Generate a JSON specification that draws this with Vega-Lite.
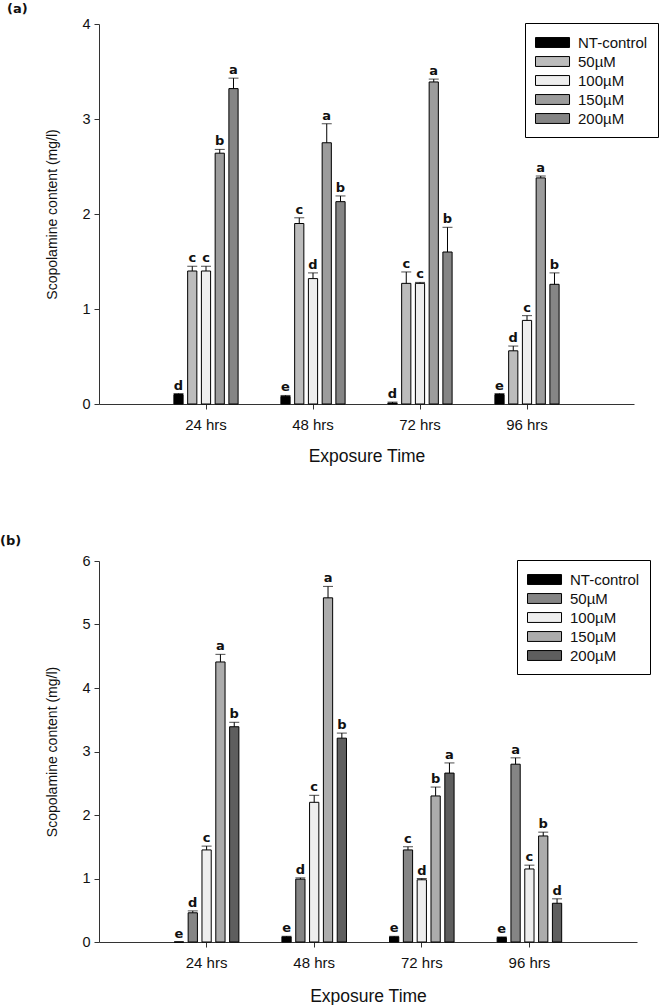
{
  "$schema": "https://vega.github.io/schema/vega-lite/v6.json",
  "padding": {"left": 0, "top": 3, "right": 0, "bottom": 0},
  "background": "white",
  "config": {
    "font": "Liberation Sans",
    "view": {"stroke": null},
    "axis": {"domainColor": "#333", "tickColor": "#333", "labelColor": "#111", "titleColor": "#111", "grid": false, "labelFont": "Liberation Sans", "titleFont": "Liberation Sans", "titleFontWeight": "normal", "tickSize": 5, "labelFontSize": 15, "titleFontSize": 17.5},
    "legend": {"orient": "none", "title": null, "strokeColor": "black", "fillColor": "white", "padding": 10, "symbolType": "M-1,-0.55H2.78V0.55H-1Z", "symbolSize": 324, "symbolStrokeColor": "black", "symbolStrokeWidth": 1, "labelFontSize": 15, "labelOffset": 24, "rowPadding": 1, "labelFont": "Liberation Sans", "labelColor": "#111", "symbolOpacity": 1}
  },
  "datasets": {
    "a": [
      {"time": "24 hrs", "series": "NT-control", "value": 0.10, "hi": 0.11, "letter": "d"},
      {"time": "24 hrs", "series": "50µM", "value": 1.40, "hi": 1.45, "letter": "c"},
      {"time": "24 hrs", "series": "100µM", "value": 1.40, "hi": 1.45, "letter": "c"},
      {"time": "24 hrs", "series": "150µM", "value": 2.64, "hi": 2.68, "letter": "b"},
      {"time": "24 hrs", "series": "200µM", "value": 3.32, "hi": 3.43, "letter": "a"},
      {"time": "48 hrs", "series": "NT-control", "value": 0.08, "hi": 0.09, "letter": "e"},
      {"time": "48 hrs", "series": "50µM", "value": 1.90, "hi": 1.96, "letter": "c"},
      {"time": "48 hrs", "series": "100µM", "value": 1.32, "hi": 1.38, "letter": "d"},
      {"time": "48 hrs", "series": "150µM", "value": 2.75, "hi": 2.95, "letter": "a"},
      {"time": "48 hrs", "series": "200µM", "value": 2.13, "hi": 2.19, "letter": "b"},
      {"time": "72 hrs", "series": "NT-control", "value": 0.01, "hi": 0.02, "letter": "d"},
      {"time": "72 hrs", "series": "50µM", "value": 1.27, "hi": 1.39, "letter": "c"},
      {"time": "72 hrs", "series": "100µM", "value": 1.27, "hi": 1.28, "letter": "c"},
      {"time": "72 hrs", "series": "150µM", "value": 3.39, "hi": 3.42, "letter": "a"},
      {"time": "72 hrs", "series": "200µM", "value": 1.60, "hi": 1.86, "letter": "b"},
      {"time": "96 hrs", "series": "NT-control", "value": 0.10, "hi": 0.11, "letter": "e"},
      {"time": "96 hrs", "series": "50µM", "value": 0.56, "hi": 0.61, "letter": "d"},
      {"time": "96 hrs", "series": "100µM", "value": 0.88, "hi": 0.93, "letter": "c"},
      {"time": "96 hrs", "series": "150µM", "value": 2.38, "hi": 2.40, "letter": "a"},
      {"time": "96 hrs", "series": "200µM", "value": 1.26, "hi": 1.38, "letter": "b"}
    ],
    "b": [
      {"time": "24 hrs", "series": "NT-control", "value": 0.0, "hi": 0.0, "letter": "e"},
      {"time": "24 hrs", "series": "50µM", "value": 0.46, "hi": 0.49, "letter": "d"},
      {"time": "24 hrs", "series": "100µM", "value": 1.45, "hi": 1.51, "letter": "c"},
      {"time": "24 hrs", "series": "150µM", "value": 4.41, "hi": 4.53, "letter": "a"},
      {"time": "24 hrs", "series": "200µM", "value": 3.39, "hi": 3.46, "letter": "b"},
      {"time": "48 hrs", "series": "NT-control", "value": 0.08, "hi": 0.09, "letter": "e"},
      {"time": "48 hrs", "series": "50µM", "value": 0.99, "hi": 1.01, "letter": "d"},
      {"time": "48 hrs", "series": "100µM", "value": 2.20, "hi": 2.31, "letter": "c"},
      {"time": "48 hrs", "series": "150µM", "value": 5.42, "hi": 5.60, "letter": "a"},
      {"time": "48 hrs", "series": "200µM", "value": 3.21, "hi": 3.29, "letter": "b"},
      {"time": "72 hrs", "series": "NT-control", "value": 0.08, "hi": 0.09, "letter": "e"},
      {"time": "72 hrs", "series": "50µM", "value": 1.45, "hi": 1.50, "letter": "c"},
      {"time": "72 hrs", "series": "100µM", "value": 0.98, "hi": 1.00, "letter": "d"},
      {"time": "72 hrs", "series": "150µM", "value": 2.30, "hi": 2.44, "letter": "b"},
      {"time": "72 hrs", "series": "200µM", "value": 2.66, "hi": 2.82, "letter": "a"},
      {"time": "96 hrs", "series": "NT-control", "value": 0.07, "hi": 0.08, "letter": "e"},
      {"time": "96 hrs", "series": "50µM", "value": 2.80, "hi": 2.90, "letter": "a"},
      {"time": "96 hrs", "series": "100µM", "value": 1.15, "hi": 1.21, "letter": "c"},
      {"time": "96 hrs", "series": "150µM", "value": 1.67, "hi": 1.73, "letter": "b"},
      {"time": "96 hrs", "series": "200µM", "value": 0.61, "hi": 0.68, "letter": "d"}
    ]
  },
  "columns": 1,
  "align": "none",
  "spacing": 70,
  "resolve": {"scale": {"fill": "independent", "y": "independent", "x": "independent", "xOffset": "independent"}, "legend": {"fill": "independent"}},
  "concat": [
    {
      "data": {"name": "a"},
      "title": {"text": "(a)", "anchor": "start", "frame": "group", "dx": -92, "fontSize": 13, "fontWeight": "bold", "font": "DejaVu Sans", "offset": 0, "color": "#111"},
      "width": 535,
      "height": 380,
      "encoding": {
        "x": {"field": "time", "type": "nominal", "sort": null, "scale": {"domain": ["24 hrs", "48 hrs", "72 hrs", "96 hrs"], "paddingInner": 0.4, "paddingOuter": 0.7}, "axis": {"title": "Exposure Time", "labelAngle": 0, "labelPadding": 8, "titlePadding": 15}},
        "xOffset": {"field": "series", "type": "nominal", "sort": null, "scale": {"domain": ["NT-control", "50µM", "100µM", "150µM", "200µM"], "paddingInner": 0.33, "paddingOuter": 0}}
      },
      "layer": [
        {
          "mark": {"type": "bar", "stroke": "black", "strokeWidth": 1},
          "encoding": {
            "y": {"field": "value", "type": "quantitative", "scale": {"domain": [0, 4], "nice": false}, "axis": {"title": "Scopolamine content (mg/l)", "values": [0, 1, 2, 3, 4], "format": "d", "labelPadding": 4, "titlePadding": 22, "titleFontSize": 14, "labelFontSize": 14.5}},
            "fill": {"field": "series", "type": "nominal", "sort": null, "scale": {"domain": ["NT-control", "50µM", "100µM", "150µM", "200µM"], "range": ["#000000", "#bcbcbc", "#eeeeee", "#9c9c9c", "#858585"]}, "legend": {"legendX": 426, "legendY": -1}}
          }
        },
        {"mark": {"type": "rule", "color": "black", "strokeWidth": 1}, "encoding": {"y": {"field": "value", "type": "quantitative"}, "y2": {"field": "hi"}}},
        {"mark": {"type": "tick", "color": "black", "thickness": 1, "size": 10}, "encoding": {"y": {"field": "hi", "type": "quantitative"}}},
        {"mark": {"type": "text", "baseline": "bottom", "dy": -1, "fontWeight": "bold", "fontSize": 13, "font": "DejaVu Sans", "color": "#111"}, "encoding": {"y": {"field": "hi", "type": "quantitative"}, "text": {"field": "letter"}}}
      ]
    },
    {
      "data": {"name": "b"},
      "title": {"text": "(b)", "anchor": "start", "frame": "group", "dx": -99, "fontSize": 13, "fontWeight": "bold", "font": "DejaVu Sans", "offset": 5, "color": "#111"},
      "width": 538,
      "height": 381,
      "encoding": {
        "x": {"field": "time", "type": "nominal", "sort": null, "scale": {"domain": ["24 hrs", "48 hrs", "72 hrs", "96 hrs"], "paddingInner": 0.4, "paddingOuter": 0.7}, "axis": {"title": "Exposure Time", "labelAngle": 0, "labelPadding": 8, "titlePadding": 17}},
        "xOffset": {"field": "series", "type": "nominal", "sort": null, "scale": {"domain": ["NT-control", "50µM", "100µM", "150µM", "200µM"], "paddingInner": 0.33, "paddingOuter": 0}}
      },
      "layer": [
        {
          "mark": {"type": "bar", "stroke": "black", "strokeWidth": 1},
          "encoding": {
            "y": {"field": "value", "type": "quantitative", "scale": {"domain": [0, 6], "nice": false}, "axis": {"title": "Scopolamine content (mg/l)", "values": [0, 1, 2, 3, 4, 5, 6], "format": "d", "labelPadding": 4, "titlePadding": 22, "titleFontSize": 14, "labelFontSize": 14.5}},
            "fill": {"field": "series", "type": "nominal", "sort": null, "scale": {"domain": ["NT-control", "50µM", "100µM", "150µM", "200µM"], "range": ["#000000", "#858585", "#eeeeee", "#acacac", "#5e5e5e"]}, "legend": {"legendX": 418, "legendY": -1}}
          }
        },
        {"mark": {"type": "rule", "color": "black", "strokeWidth": 1}, "encoding": {"y": {"field": "value", "type": "quantitative"}, "y2": {"field": "hi"}}},
        {"mark": {"type": "tick", "color": "black", "thickness": 1, "size": 10}, "encoding": {"y": {"field": "hi", "type": "quantitative"}}},
        {"mark": {"type": "text", "baseline": "bottom", "dy": -1, "fontWeight": "bold", "fontSize": 13, "font": "DejaVu Sans", "color": "#111"}, "encoding": {"y": {"field": "hi", "type": "quantitative"}, "text": {"field": "letter"}}}
      ]
    }
  ]
}
